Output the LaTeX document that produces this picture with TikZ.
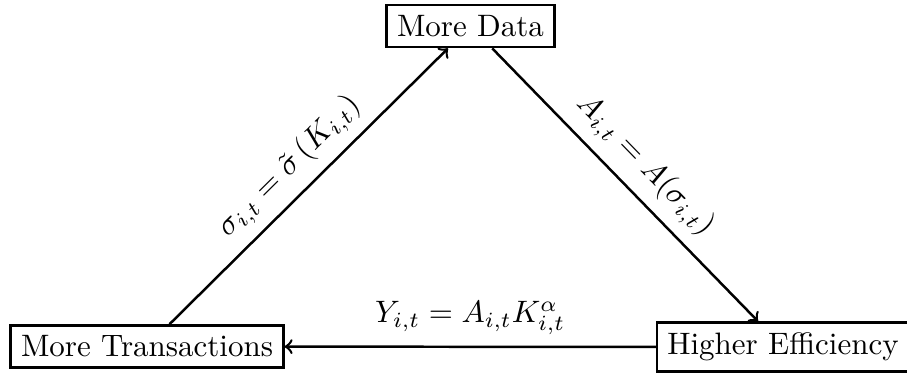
\documentclass[tikz,border=0pt]{standalone}
\usetikzlibrary{arrows}
\begin{document}
\begin{tikzpicture}[x=0.32258pt,y=-0.32258pt,
  box/.style={draw,thick,inner sep=3.33pt,fill=white},
  conn/.style={->,thick}]
\useasboundingbox (0,0) rectangle (907,373);
\node[box] (md) at (470.5,26) {More Data};
\node[box] (mt) at (147,346.5) {More Transactions};
\node[box] (he) at (783,347) {Higher Efficiency};
\draw[conn] (mt) -- node[above,sloped,midway] {$\sigma_{i,t} = \tilde{\sigma}\left(K_{i,t}\right)$} (md);
\draw[conn] (md) -- node[above,sloped,midway] {$A_{i,t} = A(\sigma_{i,t})$} (he);
\draw[conn] (he) -- node[above,midway] {$Y_{i,t} = A_{i,t}K_{i,t}^{\alpha}$} (mt);
\end{tikzpicture}
\end{document}
